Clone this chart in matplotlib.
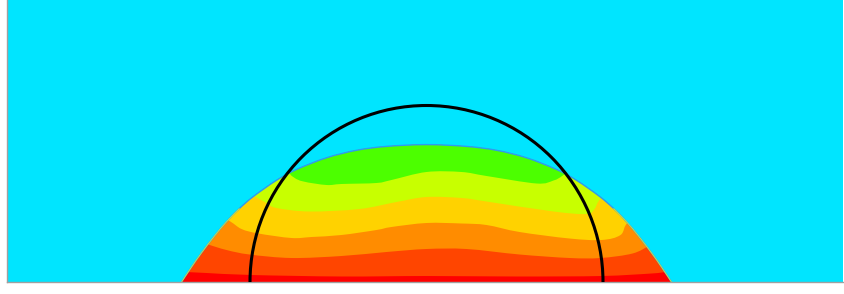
import numpy as np
import matplotlib
matplotlib.use("Agg")
import matplotlib.pyplot as plt
from matplotlib.patches import Circle, PathPatch
from matplotlib.path import Path

# ---- data (domain units, arbitrary length scale) ----
X_MIN, X_MAX = -419.5, 416.5
Y_MIN, Y_MAX = 0.0, 282.0

# droplet (dome) half profile: horizontal offset from centre -> height
DOME_HALF_X = [0, 40, 70, 100, 130, 150, 173, 187, 200, 212, 225, 235, 245]
DOME_HALF_H = [137.4, 135.6, 131.7, 124.2, 112.5, 101.7, 85.6, 73.6, 60.3, 46.1, 29.2, 15, 0]

# reference circle
CIRCLE_R = 176.5

# contour band boundaries (bottom -> top)
B1_X = [-260, -240, -220, -175, -85, 0, 90, 175, 225, 240, 260]
B1_Y = [11, 10, 9, 7, 5.5, 6, 5.5, 6, 8.5, 10, 11]

B2_X = [-260, -245, -221, -200, -177, -135, -85, -40, 0, 40, 93, 143, 174, 206, 224, 245, 260]
B2_Y = [48, 48, 38.5, 32, 27.5, 24, 26, 30, 33, 33, 27.5, 24, 24, 28.5, 37, 48, 48]

B3_X = [-260, -230, -199, -185, -168, -135, -115, -85, -50, -35, 0, 35, 60, 93, 143, 175, 194, 202, 230, 260]
B3_Y = [75, 75, 62, 53, 48.5, 44, 45, 47, 52, 55, 59, 58.5, 57, 50, 43.5, 42, 47, 60, 75, 75]

B4_X = [-260, -200, -171, -160, -150, -117, -67, -30, 0, 35, 60, 127, 160, 168, 175, 200, 260]
B4_Y = [100, 100, 85, 79, 74, 70.5, 73, 80, 85, 84, 80.5, 70.5, 68, 73, 84, 100, 100]

B5_X = [-260, -160, -134, -123, -100, -85, -50, -35, 0, 35, 60, 110, 127, 137, 160, 260]
B5_Y = [125, 125, 105.5, 100.5, 97, 98, 99, 102, 110, 110, 106, 98.5, 101.5, 107, 125, 125]

BOUNDARIES = [(B1_X, B1_Y), (B2_X, B2_Y), (B3_X, B3_Y), (B4_X, B4_Y), (B5_X, B5_Y)]
BAND_COLORS = ["#FF0000", "#FF4500", "#FF8C00", "#FFD200", "#C8FF00", "#4CFF00"]
BG_COLOR = "#00E5FF"


def smooth_path_codes(px, py):
    """Vertices/codes of a smooth (Catmull-Rom as cubic Bezier) curve through the points."""
    P = np.column_stack([px, py]).astype(float)
    n = len(P)
    verts = [P[0]]
    codes = [Path.MOVETO]
    for i in range(n - 1):
        p0 = P[i - 1] if i > 0 else P[i]
        p1 = P[i]
        p2 = P[i + 1]
        p3 = P[i + 2] if i + 2 < n else P[i + 1]
        c1 = p1 + (p2 - p0) / 6.0
        c2 = p2 - (p3 - p1) / 6.0
        verts += [c1, c2, p2]
        codes += [Path.CURVE4] * 3
    return verts, codes


# ---- figure ----
W, H = 844, 294
fig = plt.figure(figsize=(W / 100, H / 100), dpi=100)
ax = fig.add_axes([7 / W, 12 / H, 836 / W, 282 / H])
ax.set_xlim(X_MIN, X_MAX)
ax.set_ylim(Y_MIN, Y_MAX)
ax.set_facecolor(BG_COLOR)
ax.set_xticks([])
ax.set_yticks([])
for s in ["top", "right"]:
    ax.spines[s].set_visible(False)
for s in ["left", "bottom"]:
    ax.spines[s].set_color("#A0A0A0")
    ax.spines[s].set_linewidth(1.0)

hx = np.array(DOME_HALF_X, dtype=float)
hh = np.array(DOME_HALF_H, dtype=float)
dome_x = np.concatenate([-hx[::-1], hx[1:]])
dome_y = np.concatenate([hh[::-1], hh[1:]])

dv, dc = smooth_path_codes(dome_x, dome_y)
dome_path = Path(dv + [dv[0]], dc + [Path.CLOSEPOLY])
dome = PathPatch(dome_path, facecolor=BAND_COLORS[0], edgecolor="none", zorder=1)
ax.add_patch(dome)

for i, (bx, by) in enumerate(BOUNDARIES):
    v, c = smooth_path_codes(bx, by)
    v = v + [np.array([bx[-1], Y_MAX + 10]), np.array([bx[0], Y_MAX + 10]), v[0]]
    c = c + [Path.LINETO, Path.LINETO, Path.CLOSEPOLY]
    band = PathPatch(Path(v, c), facecolor=BAND_COLORS[i + 1], edgecolor="none", zorder=2 + i)
    ax.add_patch(band)
    band.set_clip_path(dome)

# interface outline
outline = PathPatch(Path(dv, dc), facecolor="none", edgecolor="#2E9BF0", lw=1.0, zorder=10)
ax.add_patch(outline)
lv, lc = smooth_path_codes(dome_x[:6], dome_y[:6])
rv, rc = smooth_path_codes(dome_x[-6:], dome_y[-6:])
for v, c in [(lv, lc), (rv, rc)]:
    ax.add_patch(PathPatch(Path(v, c), facecolor="none", edgecolor="#D8E830", lw=0.6, zorder=11))

circ = Circle((0, 0), CIRCLE_R, fill=False, edgecolor="black", lw=2.2, zorder=20)
ax.add_patch(circ)

fig.savefig("out.png", dpi=100)
